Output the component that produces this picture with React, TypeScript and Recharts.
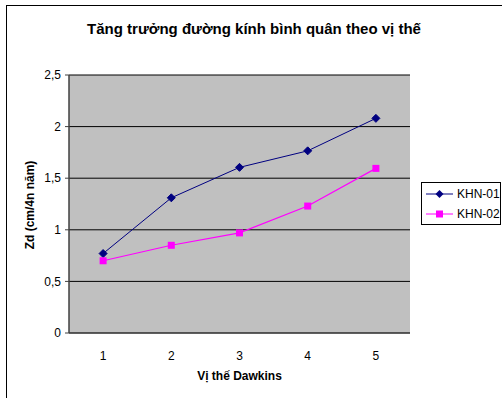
import { LineChart, Line, XAxis, YAxis, CartesianGrid } from 'recharts'

const positions = [1, 2, 3, 4, 5]
const khn01 = [0.77, 1.31, 1.605, 1.765, 2.08]
const khn02 = [0.7, 0.85, 0.97, 1.23, 1.595]
const yTicks = [0, 0.5, 1, 1.5, 2, 2.5]
const boundaryTicks = [0.5, 1.5, 2.5, 3.5, 4.5, 5.5]
const seriesNames = ['KHN-01', 'KHN-02']

const data = positions.map((p, i) => ({ pos: p, 'KHN-01': khn01[i], 'KHN-02': khn02[i] }))

const FONT = 'Liberation Sans, Arial, sans-serif'
const NAVY = '#000080'
const PINK = '#FF00FF'

// diamond marker like Excel
const Diamond = (props: any) => {
    const { cx, cy } = props
    if (cx == null || cy == null) return null
    const r = 4
    return (
        <path
            d={`M${cx},${cy - r} L${cx + r},${cy} L${cx},${cy + r} L${cx - r},${cy} Z`}
            fill={NAVY}
            stroke={NAVY}
        />
    )
}

const Square = (props: any) => {
    const { cx, cy } = props
    if (cx == null || cy == null) return null
    return <rect x={cx - 3.5} y={cy - 3.5} width={7} height={7} fill={PINK} />
}

const fmt = (v: number) => String(v).replace('.', ',')

export default function App() {
    return (
        <div style={{ position: 'absolute', left: 0, top: 0, width: 502, height: 398, background: '#fff', fontFamily: FONT, overflow: 'hidden' }}>
            {/* chart frame */}
            <div style={{ position: 'absolute', left: 6, top: 5, width: 520, height: 420, borderTop: '1px solid #000', borderLeft: '1px solid #000' }} />
            <div style={{ position: 'absolute', left: 0, width: 508, top: 20, textAlign: 'center', fontWeight: 'bold', fontSize: 15, color: '#000' }}>
                Tăng trưởng đường kính bình quân theo vị thế
            </div>
            <div
                style={{
                    position: 'absolute', left: 30, top: 205, transform: 'translate(-50%, -50%) rotate(-90deg)',
                    whiteSpace: 'nowrap', fontWeight: 'bold', fontSize: 12,
                }}
            >
                Zd (cm/4n năm)
            </div>
            <div style={{ position: 'absolute', left: 69, width: 341, top: 369, textAlign: 'center', fontWeight: 'bold', fontSize: 12 }}>
                Vị thế Dawkins
            </div>
            <LineChart
                width={502}
                height={398}
                data={data}
                margin={{ top: 75, right: 92, bottom: 0, left: 0 }}
                style={{ position: 'absolute', left: 0, top: 0 }}
            >
                <CartesianGrid vertical={false} stroke="#000" strokeOpacity={1} fill="#C0C0C0" fillOpacity={1} />
                <XAxis
                    dataKey="pos"
                    type="number"
                    domain={[0.5, 5.5]}
                    ticks={positions}
                    tickLine={false}
                    axisLine={{ stroke: '#404040' }}
                    tick={{ fill: '#000', fontSize: 12, fontFamily: FONT }}
                    tickMargin={12}
                    height={65}
                />
                <XAxis
                    xAxisId="bounds"
                    dataKey="pos"
                    type="number"
                    domain={[0.5, 5.5]}
                    ticks={boundaryTicks}
                    tick={false}
                    tickSize={4}
                    axisLine={false}
                    tickLine={{ stroke: '#404040' }}
                    height={0}
                />
                <YAxis
                    domain={[0, 2.5]}
                    ticks={yTicks}
                    width={69}
                    tickSize={4}
                    tickLine={{ stroke: '#404040' }}
                    axisLine={{ stroke: '#404040', strokeWidth: 1.5 }}
                    tick={{ fill: '#000', fontSize: 12, fontFamily: FONT }}
                    tickFormatter={fmt}
                    tickMargin={4}
                />
                <Line dataKey="KHN-01" stroke={NAVY} strokeWidth={1} dot={<Diamond />} isAnimationActive={false} />
                <Line dataKey="KHN-02" stroke={PINK} strokeWidth={1.2} dot={<Square />} isAnimationActive={false} />
            </LineChart>
            {/* legend box, Excel style */}
            <div style={{ position: 'absolute', left: 421, top: 182, width: 80, height: 43, border: '1px solid #000', background: '#fff', padding: '1px 0 0 4px', boxSizing: 'border-box' }}>
                {seriesNames.map((name, i) => {
                    const color = i === 0 ? NAVY : PINK
                    return (
                        <div key={name} style={{ display: 'flex', alignItems: 'center', fontSize: 12, height: 20, whiteSpace: 'nowrap' }}>
                            <svg width={27} height={10} style={{ marginRight: 4, flexShrink: 0 }}>
                                <line x1={0} y1={5} x2={27} y2={5} stroke={color} strokeWidth={1} />
                                {i === 0 ? (
                                    <path d="M13.5,1 L17.5,5 L13.5,9 L9.5,5 Z" fill={color} />
                                ) : (
                                    <rect x={10} y={1.5} width={7} height={7} fill={color} />
                                )}
                            </svg>
                            <span>{name}</span>
                        </div>
                    )
                })}
            </div>
        </div>
    )
}
